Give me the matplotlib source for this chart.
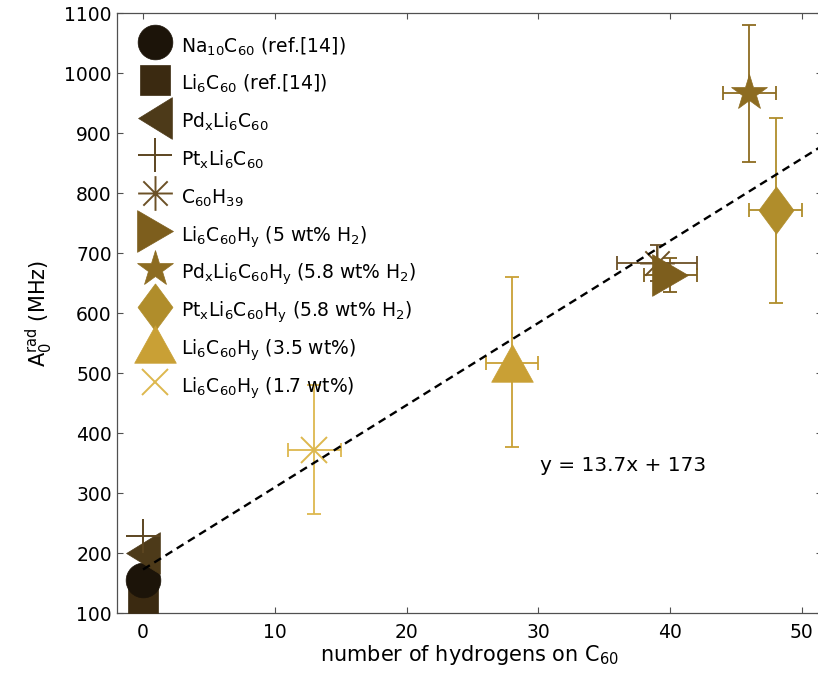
import numpy as np
import matplotlib
matplotlib.use('Agg')
import matplotlib.pyplot as plt
from matplotlib.path import Path

plt.rcParams['font.family'] = ['DejaVu Sans']
plt.rcParams['mathtext.fontset'] = 'dejavusans'
plt.rcParams['font.size'] = 13.5

# samples (legend order)
labels = [r'Na$_{10}$C$_{60}$ (ref.[14])',
          r'Li$_6$C$_{60}$ (ref.[14])',
          r'Pd$_\mathrm{x}$Li$_6$C$_{60}$',
          r'Pt$_\mathrm{x}$Li$_6$C$_{60}$',
          r'C$_{60}$H$_{39}$',
          r'Li$_6$C$_{60}$H$_\mathrm{y}$ (5 wt% H$_2$)',
          r'Pd$_\mathrm{x}$Li$_6$C$_{60}$H$_\mathrm{y}$ (5.8 wt% H$_2$)',
          r'Pt$_\mathrm{x}$Li$_6$C$_{60}$H$_\mathrm{y}$ (5.8 wt% H$_2$)',
          r'Li$_6$C$_{60}$H$_\mathrm{y}$ (3.5 wt%)',
          r'Li$_6$C$_{60}$H$_\mathrm{y}$ (1.7 wt%)']
n_h = [0, 0, 0, 0, 39, 40, 46, 48, 28, 13]
a_rad = [155, 125, 200, 229, 684, 664, 967, 772, 518, 373]
x_err = [0, 0, 0, 0, 3, 2, 2, 2, 2, 2]
y_err_lo = [0, 0, 0, 0, 30, 29, 114, 154, 140, 108]
y_err_hi = [0, 0, 0, 0, 30, 29, 113, 153, 143, 107]

# linear fit
slope, intercept = 13.7, 173
fit_x = [0, 52]

colors = ['#1c1409', '#3b2a11', '#4d3a19', '#5c4520', '#6c5126',
          '#7d5e1d', '#8d6c21', '#b08d2b', '#c9a035', '#ddb84e']

asterisk = Path([(-1, 0), (1, 0), (0, -1), (0, 1),
                 (-.7, -.7), (.7, .7), (-.7, .7), (.7, -.7)],
                [Path.MOVETO, Path.LINETO] * 4)
markers = ['o', 's',
           [(-0.81, 0), (0.81, 1), (0.81, -1), (-0.81, 0)],
           '+', asterisk,
           [(0.86, 0), (-0.86, 1), (-0.86, -1), (0.86, 0)],
           '*',
           [(0, 1), (0.74, 0), (0, -1), (-0.74, 0), (0, 1)],
           [(0, 0.9), (-1, -0.9), (1, -0.9), (0, 0.9)],
           'x']
sizes = [25, 21.5, 30, 25, 25, 30, 27, 34, 30, 19]
filled = [True, True, True, False, False, True, True, True, True, False]
zorders = [4, 3, 5, 6, 4, 4, 4, 4, 4, 4]

fig = plt.figure(figsize=(8.18, 6.82), dpi=100)
ax = fig.add_axes([116.7 / 818, 68.7 / 682, 705 / 818, 600 / 682])

handles = []
for i in range(len(labels)):
    c = colors[i]
    if x_err[i] > 0:
        ax.errorbar(n_h[i], a_rad[i], xerr=x_err[i],
                    yerr=[[y_err_lo[i]], [y_err_hi[i]]], fmt='none',
                    ecolor=c, elinewidth=1.3, capsize=5, capthick=1.3, zorder=2)
    if filled[i]:
        h, = ax.plot(n_h[i], a_rad[i], linestyle='none', marker=markers[i],
                     ms=sizes[i], color=c, mec=c, mew=0.5, zorder=zorders[i])
    else:
        h, = ax.plot(n_h[i], a_rad[i], linestyle='none', marker=markers[i],
                     ms=sizes[i], color=c, mfc='none', mec=c, mew=1.4,
                     zorder=zorders[i])
    handles.append(h)

fx = np.array(fit_x, dtype=float)
ax.plot(fx, slope * fx + intercept, color='k', lw=1.7, dashes=(3.4, 2.2), zorder=8)
ax.text(30.1, 347, 'y = 13.7x + 173', fontsize=14.5, va='center', ha='left')

ax.set_xlim(-2, 51.5)
ax.set_ylim(100, 1100)
ax.set_xticks(range(0, 51, 10))
ax.set_yticks(range(100, 1101, 100))
for s in ax.spines.values():
    s.set_color('#505050')
    s.set_linewidth(0.9)
ax.tick_params(direction='in', length=4, width=0.8, color='#505050',
               top=True, right=True, labelsize=13.5)
ax.tick_params(axis='x', pad=7)
ax.set_xlabel(r'number of hydrogens on C$_{60}$', fontsize=15, labelpad=1)
ax.set_ylabel(r'$\mathrm{A}_0^\mathrm{rad}$ (MHz)', fontsize=15, labelpad=7)

ax.legend(handles, labels, loc='upper left', bbox_to_anchor=(0.0277, 0.969),
          frameon=False, handlelength=2, handleheight=2, handletextpad=0.39,
          labelspacing=0.47, borderpad=0, borderaxespad=0, numpoints=1,
          fontsize=13.5)

fig.savefig('out.png', dpi=100)
